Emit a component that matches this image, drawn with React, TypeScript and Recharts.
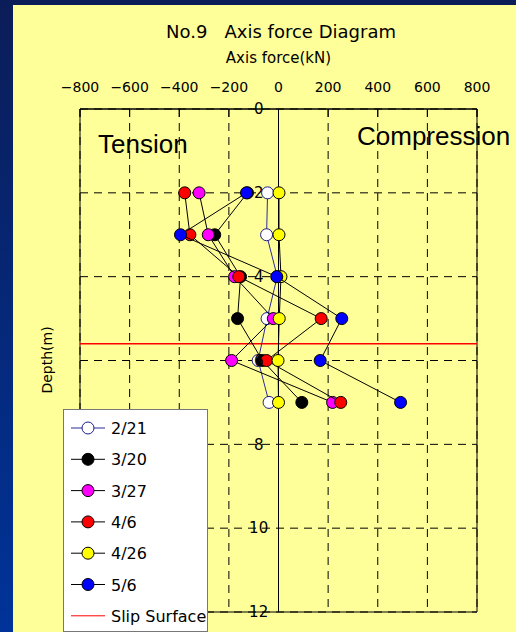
import React from 'react'
import { ScatterChart, Scatter, XAxis, YAxis, CartesianGrid, ReferenceLine, ReferenceArea, ReferenceDot } from 'recharts'

const depths = [2, 3, 4, 5, 6, 7]
const forceTicks = [-800, -600, -400, -200, 0, 200, 400, 600, 800]
const depthTicks = [0, 2, 4, 6, 8, 10, 12]
const slipDepth = 5.6

// axis force (kN) at each depth
const f0221 = [-44, -48, -5, -46, -82, -38]
const f0320 = [-125, -257, -153, -165, -65, 94]
const f0327 = [-320, -283, -177, -21, -189, 218]
const f0406 = [-378, -357, -160, 172, -48, 251]
const f0426 = [2, 2, 10, 3, -2, 0]
const f0506 = [-129, -395, -7, 255, 168, 492]

const seriesList = [
  { name: '2/21', values: f0221, fill: '#ffffff', stroke: '#1c1c8a', line: '#2b2b99' },
  { name: '3/20', values: f0320, fill: '#000000', stroke: '#000000', line: '#000000' },
  { name: '3/27', values: f0327, fill: '#ff00ff', stroke: '#000000', line: '#000000' },
  { name: '4/6', values: f0406, fill: '#ff0000', stroke: '#000000', line: '#000000' },
  { name: '4/26', values: f0426, fill: '#ffff00', stroke: '#000000', line: '#000000' },
  { name: '5/6', values: f0506, fill: '#0000ff', stroke: '#000000', line: '#000000' },
]

const FONT = 'DejaVu Sans'

const fmtForce = (v: number) => (v < 0 ? `\u2212${-v}` : `${v}`)

export default function App() {
  return (
    <div style={{ position: 'absolute', left: 0, top: 0, width: 516, height: 632, background: 'linear-gradient(to bottom, #0b1d58, #003399)', overflow: 'hidden' }}>
      <div style={{ position: 'absolute', left: 13, top: 5, width: 503, height: 627, background: '#ffff99' }} />
      <div style={{ position: 'absolute', left: 0, top: 0 }}>
        <ScatterChart width={516} height={632} margin={{ top: 79, right: 39, bottom: 20, left: 80 }}>
          <CartesianGrid stroke="#000" strokeDasharray="8 6" horizontalValues={depthTicks} verticalValues={forceTicks} />
          <XAxis
            type="number"
            dataKey="force"
            orientation="top"
            domain={[-800, 800]}
            ticks={forceTicks}
            interval={0}
            height={30}
            tickFormatter={fmtForce}
            axisLine={{ stroke: '#000' }}
            tickLine={{ stroke: '#000' }}
            tickSize={-8}
            tickMargin={25}
            tick={{ fill: '#000', fontSize: 14, fontFamily: FONT }}
            label={{ value: 'Axis force(kN)', position: 'top', offset: 16, fill: '#000', fontSize: 15, fontFamily: FONT }}
          />
          <YAxis
            type="number"
            dataKey="depth"
            domain={[0, 12]}
            ticks={depthTicks}
            interval={0}
            reversed
            width={0}
            axisLine={false}
            tickLine={false}
            tick={() => null}
          />
          <ReferenceArea x1={-800} x2={800} y1={0} y2={12} fill="none" stroke="#000" strokeWidth={1} ifOverflow="visible" />
          <ReferenceLine x={0} stroke="#000" strokeWidth={1} />
          <ReferenceLine y={slipDepth} stroke="#ff0000" strokeWidth={1.3} />
          {depthTicks.map((d) => (
            <ReferenceDot
              key={d}
              x={-80}
              y={d}
              r={0}
              fill="none"
              stroke="none"
              ifOverflow="visible"
              label={{ value: d, position: 'center', fill: '#000', fontSize: 15, fontFamily: FONT }}
            />
          ))}
          {seriesList.map((s) => (
            <Scatter
              key={s.name}
              name={s.name}
              data={depths.map((d, i) => ({ depth: d, force: s.values[i] }))}
              line={{ stroke: s.line, strokeWidth: 1 }}
              lineType="joint"
              isAnimationActive={false}
              shape={(p: any) => <circle cx={p.cx} cy={p.cy} r={6} fill={s.fill} stroke={s.stroke} strokeWidth={1} />}
            />
          ))}
        </ScatterChart>
      </div>
      <svg width={516} height={632} style={{ position: 'absolute', left: 0, top: 0, pointerEvents: 'none' }}>
        <text x={281} y={38} textAnchor="middle" fontSize={18} fontFamily={FONT} fill="#000" style={{ whiteSpace: 'pre' }}>
          {'No.9   Axis force Diagram'}
        </text>
        <text x={98} y={153} fontSize={26} fontFamily="Liberation Sans" fill="#000">Tension</text>
        <text x={357} y={145} fontSize={26} fontFamily="Liberation Sans" fill="#000">Compression</text>
        <text x={52} y={360} transform="rotate(-90 52 360)" textAnchor="middle" fontSize={14} fontFamily={FONT} fill="#000">Depth(m)</text>
        <g>
          <rect x={63.5} y={409.5} width={144} height={222} fill="#fff" stroke="#777" />
          {seriesList.map((s, i) => {
            const cy = 428 + i * 31.3
            return (
              <g key={s.name}>
                <line x1={71} x2={105} y1={cy} y2={cy} stroke={s.line} />
                <circle cx={88} cy={cy} r={6} fill={s.fill} stroke={s.stroke} />
                <text x={111} y={cy + 6} fontSize={16} fontFamily={FONT} fill="#000">{s.name}</text>
              </g>
            )
          })}
          <line x1={71} x2={105} y1={428 + 6 * 31.3} y2={428 + 6 * 31.3} stroke="#ff0000" />
          <text x={111} y={428 + 6 * 31.3 + 6} fontSize={16} fontFamily={FONT} fill="#000">Slip Surface</text>
        </g>
      </svg>
    </div>
  )
}
